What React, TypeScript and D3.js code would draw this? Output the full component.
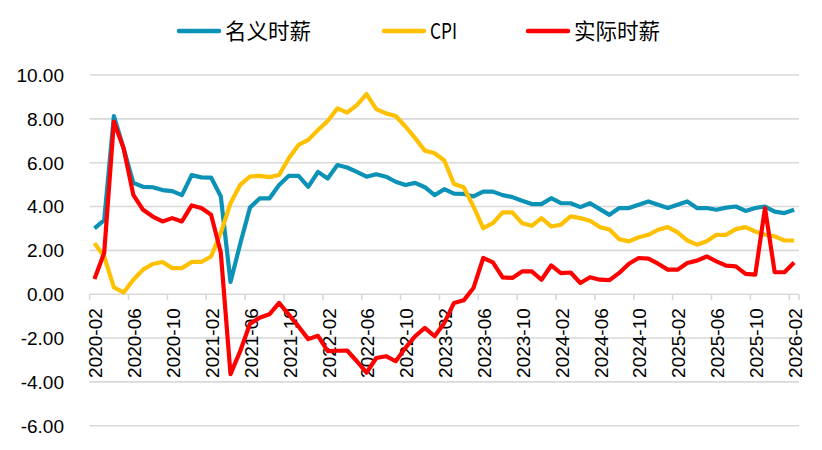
import * as d3 from 'd3'

// monthly, 2020-02 .. 2026-02
const months = d3.timeMonth
  .range(new Date(2020, 1, 1), new Date(2026, 2, 1))
  .map(d => d3.timeFormat('%Y-%m')(d))

const nominalWage = [
  3.0, 3.38, 8.13, 6.65, 5.08, 4.9, 4.88, 4.75, 4.7, 4.52, 5.43, 5.33, 5.32, 4.47, 0.56, 2.3,
  3.95, 4.37, 4.37, 4.98, 5.4, 5.4, 4.9, 5.58, 5.28, 5.89, 5.78, 5.58, 5.36, 5.47, 5.36, 5.13,
  4.98, 5.08, 4.88, 4.52, 4.79, 4.59, 4.58, 4.46, 4.68, 4.68, 4.52, 4.43, 4.26, 4.11, 4.11, 4.38,
  4.15, 4.15, 3.97, 4.15, 3.88, 3.62, 3.93, 3.93, 4.08, 4.23, 4.08, 3.93, 4.08, 4.23, 3.93, 3.93,
  3.85, 3.95, 4.0, 3.8, 3.93, 4.0, 3.77, 3.7, 3.85,
]

const cpi = [
  2.33, 1.72, 0.31, 0.08, 0.66, 1.12, 1.38, 1.47, 1.19, 1.19, 1.47, 1.47, 1.72, 2.8, 4.15, 4.99,
  5.37, 5.4, 5.34, 5.44, 6.2, 6.81, 7.04, 7.49, 7.9, 8.48, 8.28, 8.63, 9.13, 8.44, 8.25, 8.13,
  7.65, 7.12, 6.55, 6.43, 6.1, 5.03, 4.88, 4.0, 3.01, 3.24, 3.73, 3.73, 3.24, 3.12, 3.47, 3.09,
  3.17, 3.55, 3.47, 3.35, 3.06, 2.95, 2.51, 2.41, 2.6, 2.71, 2.94, 3.06, 2.82, 2.45, 2.26, 2.41,
  2.71, 2.71, 2.97, 3.06, 2.86, 2.71, 2.64, 2.45, 2.45,
]

const realWage = [
  0.69, 1.88, 7.87, 6.66, 4.53, 3.85, 3.54, 3.32, 3.47, 3.32, 4.05, 3.93, 3.62, 1.9, -3.65, -2.6,
  -1.35, -1.07, -0.92, -0.4, -0.93, -1.47, -2.05, -1.9, -2.6, -2.58, -2.57, -3.06, -3.58, -2.91, -2.83, -3.06,
  -2.45, -1.92, -1.54, -1.92, -1.31, -0.4, -0.28, 0.28, 1.65, 1.45, 0.77, 0.74, 1.04, 1.04, 0.66, 1.31,
  0.96, 0.99, 0.51, 0.77, 0.66, 0.64, 0.97, 1.39, 1.65, 1.62, 1.39, 1.12, 1.12, 1.42, 1.53, 1.72,
  1.5, 1.3, 1.27, 0.93, 0.89, 3.93, 1.0, 1.0, 1.45,
]

const yTicks = [-6, -4, -2, 0, 2, 4, 6, 8, 10]

const series = [
  { name: '名义时薪', values: nominalWage, color: '#0b92b6', legendX: 177 },
  { name: 'CPI', values: cpi, color: '#ffc000', legendX: 382 },
  { name: '实际时薪', values: realWage, color: '#ff0000', legendX: 526 },
]

const W = 822
const H = 450
const plot = { left: 89.6, right: 799, top: 75, bottom: 425.7 }
const axisFont = "'Liberation Sans', Arial, sans-serif"
const cjkFont = "'Noto Sans CJK SC', 'Liberation Sans', sans-serif"

export default function App() {
  const x = d3.scaleBand<string>().domain(months).range([plot.left, plot.right]).padding(0)
  const y = d3.scaleLinear().domain([-6, 10]).range([plot.bottom, plot.top])
  const cx = (m: string) => (x(m) as number) + x.bandwidth() / 2

  const line = d3.line<number>()
    .x((_, i) => cx(months[i]))
    .y(d => y(d))

  const labelMonths = months.filter((_, i) => i % 4 === 0)

  return (
    <svg width={W} height={H} style={{ position: 'absolute', left: 0, top: 0, background: '#fff' }}>
      {/* gridlines */}
      {yTicks.map(t => (
        <line key={t} x1={plot.left} x2={plot.right} y1={y(t)} y2={y(t)}
          stroke="#d9d9d9" strokeWidth={1.6} />
      ))}
      {/* y labels */}
      {yTicks.map(t => (
        <text key={'l' + t} x={64} y={y(t)} dy="0.36em" textAnchor="end"
          fontFamily={axisFont} fontSize={19} fill="#000">
          {t.toFixed(2)}
        </text>
      ))}
      {/* x ticks at category boundaries, on the zero line */}
      {labelMonths.map(m => (
        <line key={'t' + m} x1={x(m)} x2={x(m)} y1={y(0)} y2={y(0) + 6}
          stroke="#d9d9d9" strokeWidth={1.6} />
      ))}
      <line x1={plot.right} x2={plot.right} y1={y(0)} y2={y(0) + 6} stroke="#d9d9d9" strokeWidth={1.6} />
      {labelMonths.map(m => (
        <text key={'x' + m} transform={`translate(${cx(m) + 1},${y(0) + 14}) rotate(-90)`}
          dy="0.36em" textAnchor="end" fontFamily={axisFont} fontSize={19} fill="#000">
          {m}
        </text>
      ))}
      {/* lines */}
      {series.map(s => (
        <path key={s.name} d={line(s.values) ?? ''} fill="none" stroke={s.color}
          strokeWidth={4.2} strokeLinejoin="round" strokeLinecap="butt" />
      ))}
      {/* legend */}
      {series.map(s => (
        <g key={'lg' + s.name}>
          <line x1={s.legendX + 2} x2={s.legendX + 42} y1={31} y2={31} stroke={s.color}
            strokeWidth={4.5} strokeLinecap="round" />
          <text x={s.legendX + 48} y={31} dy="0.36em" fontFamily={cjkFont} fontSize={21.5} fill="#000"
            {...(s.name === 'CPI' ? { textLength: 27, lengthAdjust: 'spacingAndGlyphs' } : {})}>
            {s.name}
          </text>
        </g>
      ))}
    </svg>
  )
}
